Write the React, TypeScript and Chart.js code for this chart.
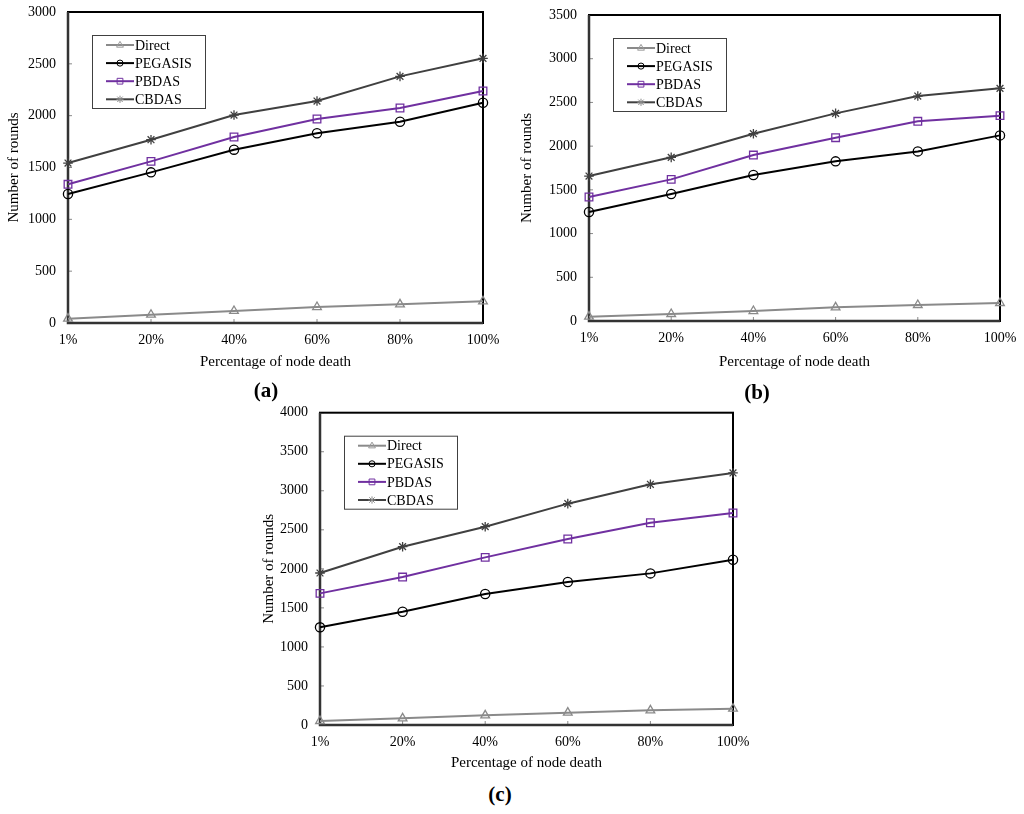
import React, { useEffect, useRef } from "react";
import { Chart, registerables } from "chart.js";

Chart.register(...registerables);

// ---------- data ----------
const categories = ["1%", "20%", "40%", "60%", "80%", "100%"];
const seriesNames = ["Direct", "PEGASIS", "PBDAS", "CBDAS"];

const directA = [42, 80, 116, 154, 180, 209];
const pegasisA = [1244, 1453, 1672, 1830, 1942, 2125];
const pbdasA = [1338, 1559, 1794, 1968, 2074, 2238];
const cbdasA = [1543, 1768, 2006, 2141, 2379, 2553];

const directB = [50, 80, 114, 156, 183, 206];
const pegasisB = [1247, 1452, 1670, 1826, 1940, 2123];
const pbdasB = [1418, 1620, 1898, 2097, 2284, 2349];
const cbdasB = [1658, 1872, 2142, 2375, 2573, 2661];

const directC = [51, 85, 124, 158, 188, 209];
const pegasisC = [1251, 1451, 1678, 1831, 1942, 2117];
const pbdasC = [1686, 1895, 2147, 2382, 2591, 2715];
const cbdasC = [1947, 2284, 2540, 2835, 3083, 3228];

const yMaxA = 3000;
const yMaxB = 3500;
const yMaxC = 4000;
const yStep = 500;

const xTitle = "Percentage of node death";
const yTitle = "Number of rounds";

// ---------- styles ----------
const FONT = "'Liberation Serif', 'Times New Roman', serif";
const seriesColors = ["#8a8a8a", "#000000", "#7030a0", "#404040"];
const legendMarkerColors = ["#9a9a9a", "#000000", "#7030a0", "#8a8a8a"];
const seriesMarkers = ["triangle", "circle", "rect", "star"];
const seriesRadius = [5, 4.6, 5.4, 4.8];

function drawMarker(ctx: CanvasRenderingContext2D, style: string, x: number, y: number, r: number, color: string, lw: number) {
  ctx.save();
  ctx.strokeStyle = color;
  ctx.lineWidth = lw;
  ctx.beginPath();
  if (style === "triangle") {
    ctx.moveTo(x, y - r);
    ctx.lineTo(x + r * 0.95, y + r * 0.6);
    ctx.lineTo(x - r * 0.95, y + r * 0.6);
    ctx.closePath();
  } else if (style === "circle") {
    ctx.arc(x, y, r * 0.85, 0, Math.PI * 2);
  } else if (style === "rect") {
    ctx.rect(x - r * 0.8, y - r * 0.8, r * 1.6, r * 1.6);
  } else {
    const d = r * 0.75;
    ctx.moveTo(x - r, y); ctx.lineTo(x + r, y);
    ctx.moveTo(x, y - r); ctx.lineTo(x, y + r);
    ctx.moveTo(x - d, y - d); ctx.lineTo(x + d, y + d);
    ctx.moveTo(x - d, y + d); ctx.lineTo(x + d, y - d);
  }
  ctx.stroke();
  ctx.restore();
}

const framePlugin = {
  id: "frame",
  beforeDatasetsDraw(chart: any) {
    const { ctx, chartArea: a, scales } = chart;
    ctx.save();
    ctx.strokeStyle = "#8a8a8a";
    ctx.lineWidth = 1;
    scales.y.ticks.forEach((t: any) => {
      const py = scales.y.getPixelForValue(t.value);
      ctx.beginPath();
      ctx.moveTo(a.left, py);
      ctx.lineTo(a.left + 4, py);
      ctx.stroke();
    });
    categories.forEach((_c, i) => {
      const px = scales.x.getPixelForValue(i);
      ctx.beginPath();
      ctx.moveTo(px, a.bottom);
      ctx.lineTo(px, a.bottom - 4);
      ctx.stroke();
    });
    ctx.strokeStyle = "#000000";
    ctx.lineWidth = 2;
    ctx.strokeRect(a.left, a.top, a.right - a.left, a.bottom - a.top);
    ctx.strokeStyle = "#333333";
    ctx.lineWidth = 2.5;
    ctx.beginPath();
    ctx.moveTo(a.left, a.top);
    ctx.lineTo(a.left, a.bottom);
    ctx.lineTo(a.right, a.bottom);
    ctx.stroke();
    ctx.restore();
  },
};

const legendPlugin = {
  id: "boxLegend",
  afterDraw(chart: any) {
    const { ctx, chartArea: a } = chart;
    const bx = a.left + 24;
    const by = a.top + 23;
    const bw = 113;
    const bh = 73;
    ctx.save();
    ctx.fillStyle = "#ffffff";
    ctx.fillRect(bx, by, bw, bh);
    ctx.strokeStyle = "#404040";
    ctx.lineWidth = 1;
    ctx.strokeRect(bx + 0.5, by + 0.5, bw, bh);
    ctx.font = `14px ${FONT}`;
    ctx.textBaseline = "middle";
    ctx.textAlign = "left";
    seriesNames.forEach((name, i) => {
      const ry = by + 10 + i * 18.1;
      ctx.strokeStyle = seriesColors[i];
      ctx.lineWidth = 2;
      ctx.beginPath();
      ctx.moveTo(bx + 14, ry);
      ctx.lineTo(bx + 42, ry);
      ctx.stroke();
      drawMarker(ctx, seriesMarkers[i], bx + 28, ry, 3.6, legendMarkerColors[i], 1);
      ctx.fillStyle = "#000000";
      ctx.fillText(name, bx + 43, ry + 1);
    });
    ctx.restore();
  },
};

type PanelProps = {
  left: number; top: number; width: number; height: number;
  yWidth: number; xHeight: number; padTop: number; padRight: number;
  yTitlePad: number; xTitlePad: number; yMax: number;
  series: number[][];
};

function Panel(p: PanelProps) {
  const ref = useRef<HTMLCanvasElement | null>(null);
  useEffect(() => {
    if (!ref.current) return;
    const datasets = p.series.map((vals, i) => ({
      label: seriesNames[i],
      data: vals,
      borderColor: seriesColors[i],
      backgroundColor: "rgba(0,0,0,0)",
      borderWidth: 2,
      pointStyle: seriesMarkers[i] as any,
      pointRadius: seriesRadius[i],
      pointBorderWidth: i === 3 ? 1.3 : 1.3,
      pointBorderColor: seriesColors[i],
      pointBackgroundColor: "rgba(0,0,0,0)",
      tension: 0,
      clip: false as any,
    }));
    const chart = new Chart(ref.current, {
      type: "line",
      data: { labels: categories, datasets },
      options: {
        animation: false,
        responsive: true,
        maintainAspectRatio: false,
        layout: { padding: { top: p.padTop, right: p.padRight, left: 0, bottom: 0 } },
        plugins: { legend: { display: false }, tooltip: { enabled: false } },
        scales: {
          x: {
            type: "category",
            offset: false,
            grid: { display: false, drawTicks: false },
            border: { display: false },
            ticks: { color: "#000", font: { family: FONT, size: 14 }, padding: 9, maxRotation: 0, autoSkip: false },
            title: { display: true, text: xTitle, color: "#000", font: { family: FONT, size: 15 }, padding: { top: 0, bottom: p.xTitlePad } },
            afterFit: (s: any) => { s.height = p.xHeight; s.paddingLeft = 0; s.paddingRight = 0; },
          },
          y: {
            min: 0,
            max: p.yMax,
            grid: { display: false, drawTicks: false },
            border: { display: false },
            ticks: {
              stepSize: yStep, color: "#000", font: { family: FONT, size: 14 }, padding: 12,
              callback: (v: any) => String(v),
            },
            title: { display: true, text: yTitle, color: "#000", font: { family: FONT, size: 15 }, padding: { top: p.yTitlePad, bottom: 0 } },
            afterFit: (s: any) => { s.width = p.yWidth; s.paddingTop = 0; s.paddingBottom = 0; },
          },
        },
      },
      plugins: [framePlugin, legendPlugin],
    });
    return () => chart.destroy();
  }, []);
  return (
    <div style={{ position: "absolute", left: p.left, top: p.top, width: p.width, height: p.height }}>
      <canvas ref={ref} />
    </div>
  );
}

function Caption({ text, cx, cy }: { text: string; cx: number; cy: number }) {
  return (
    <div style={{
      position: "absolute", left: cx - 30, top: cy - 13, width: 60, height: 26, lineHeight: "26px",
      textAlign: "center", fontFamily: FONT, fontWeight: "bold", fontSize: 21, color: "#000",
    }}>{text}</div>
  );
}

export default function App() {
  return (
    <div style={{ position: "fixed", left: 0, top: 0, width: 1024, height: 814, background: "#fff", overflow: "hidden" }}>
      <Panel left={0} top={0} width={500} height={375} yWidth={68} xHeight={52} padTop={12} padRight={17}
        yTitlePad={5} xTitlePad={4} yMax={yMaxA} series={[directA, pegasisA, pbdasA, cbdasA]} />
      <Panel left={510} top={0} width={514} height={375} yWidth={79} xHeight={54} padTop={15} padRight={24}
        yTitlePad={8.5} xTitlePad={4} yMax={yMaxB} series={[directB, pegasisB, pbdasB, cbdasB]} />
      <Panel left={250} top={400} width={500} height={375} yWidth={70} xHeight={50} padTop={12.7} padRight={17}
        yTitlePad={10} xTitlePad={2.5} yMax={yMaxC} series={[directC, pegasisC, pbdasC, cbdasC]} />
      <Caption text="(a)" cx={266} cy={390} />
      <Caption text="(b)" cx={757} cy={392} />
      <Caption text="(c)" cx={500} cy={794} />
    </div>
  );
}
